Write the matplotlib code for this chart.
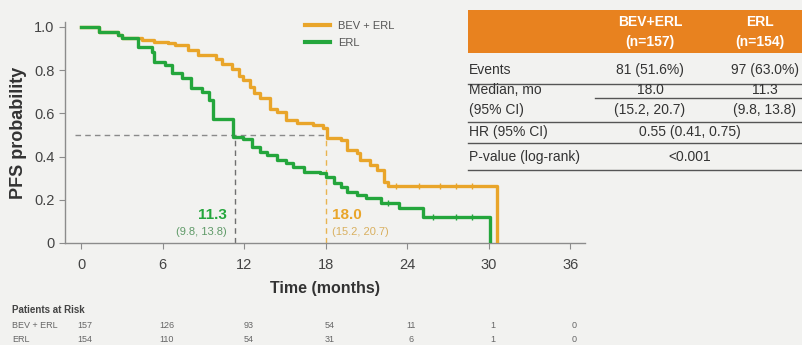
import matplotlib.pyplot as plt
from matplotlib.patches import Rectangle
from matplotlib.lines import Line2D
from matplotlib.transforms import blended_transform_factory

plt.rcParams['font.family'] = ['Liberation Sans Narrow', 'Liberation Sans', 'DejaVu Sans']

# Kaplan-Meier steps (months, PFS probability)
bev_t = [0, 1.3, 2.7, 3.0, 4.5, 5.4, 6.4, 6.9, 7.9, 8.6, 9.9, 10.4, 11.1, 11.6, 11.9, 12.4,
         12.7, 13.2, 13.9, 14.4, 15.1, 15.9, 17.1, 17.8, 18.1, 19.1, 19.6, 20.3, 20.5, 21.3,
         21.8, 22.3, 22.6, 30.6]
bev_s = [1.0, 0.975, 0.963, 0.948, 0.94, 0.932, 0.925, 0.915, 0.894, 0.87, 0.85, 0.83, 0.805,
         0.775, 0.755, 0.724, 0.693, 0.67, 0.62, 0.605, 0.57, 0.555, 0.546, 0.532, 0.486, 0.477,
         0.43, 0.417, 0.384, 0.361, 0.338, 0.284, 0.265, 0.0]
erl_t = [0, 1.3, 2.7, 3.0, 4.2, 5.2, 5.4, 6.2, 6.7, 7.4, 8.1, 8.9, 9.4, 9.7, 11.2, 11.9, 12.6,
         13.2, 13.7, 14.4, 15.1, 15.6, 16.4, 17.6, 18.0, 18.6, 19.1, 19.6, 20.3, 21.0, 22.1,
         23.4, 25.2, 30.1]
erl_s = [1.0, 0.978, 0.963, 0.948, 0.909, 0.886, 0.84, 0.824, 0.786, 0.764, 0.716, 0.70, 0.66,
         0.575, 0.492, 0.48, 0.446, 0.423, 0.407, 0.384, 0.369, 0.353, 0.33, 0.323, 0.307,
         0.276, 0.26, 0.237, 0.222, 0.207, 0.184, 0.16, 0.12, 0.0]

bev_cens_t = [23.2, 24.9, 26.4, 27.6, 28.8]
erl_cens_t = [22.6, 25.9, 27.6, 28.8]

bev_median, bev_ci = 18.0, "(15.2, 20.7)"
erl_median, erl_ci = 11.3, "(9.8, 13.8)"

risk_times = [0, 6, 12, 18, 24, 30, 36]
risk_bev = [157, 126, 93, 54, 11, 1, 0]
risk_erl = [154, 110, 54, 31, 6, 1, 0]

table_header = ["BEV+ERL\n(n=157)", "ERL\n(n=154)"]
table_rows = [
    ("Events", "81 (51.6%)", "97 (63.0%)"),
    ("Median, mo", "18.0", "11.3"),
    ("(95% CI)", "(15.2, 20.7)", "(9.8, 13.8)"),
    ("HR (95% CI)", "0.55 (0.41, 0.75)", None),
    ("P-value (log-rank)", "<0.001", None),
]

orange = '#e9a52a'
green = '#24a63c'
bg = '#f2f2f0'

fig = plt.figure(figsize=(8.03, 3.45), dpi=100, facecolor=bg)
ax = fig.add_axes([0.081, 0.2957, 0.6476, 0.6406], facecolor=bg)

ax.step(bev_t, bev_s, where='post', color=orange, lw=2.4, label='BEV + ERL', zorder=3)
ax.step(erl_t, erl_s, where='post', color=green, lw=2.4, label='ERL', zorder=4)

# censor ticks on the flat tails
def surv_at(ts, ss, x):
    v = ss[0]
    for t, s in zip(ts, ss):
        if t <= x:
            v = s
    return v

ax.plot(bev_cens_t, [surv_at(bev_t, bev_s, x) for x in bev_cens_t], ls='none',
        marker='|', ms=5, mew=1, color=orange, zorder=3)
ax.plot(erl_cens_t, [surv_at(erl_t, erl_s, x) for x in erl_cens_t], ls='none',
        marker='|', ms=5, mew=1, color=green, zorder=4)

# median guides
ax.plot([-0.45, bev_median], [0.5, 0.5], ls=(0, (4, 3)), color='#8a8a8a', lw=1, zorder=2)
ax.plot([erl_median, erl_median], [0, 0.5], ls=(0, (4, 3)), color='#6f6f6f', lw=1, zorder=2)
ax.plot([bev_median, bev_median], [0, 0.5], ls=(0, (4, 3)), color='#e8b450', lw=1, zorder=2)

ax.text(10.7, 0.13, f"{erl_median:.1f}", color=green, fontsize=11, fontweight='bold',
        ha='right', va='center')
ax.text(10.7, 0.05, erl_ci, color='#5f9a68', fontsize=8, ha='right', va='center')
ax.text(18.5, 0.13, f"{bev_median:.1f}", color=orange, fontsize=11, fontweight='bold',
        ha='left', va='center')
ax.text(18.5, 0.05, bev_ci, color='#d9b060', fontsize=8, ha='left', va='center')

ax.set_xlim(-1.18, 37.1)
ax.set_ylim(0, 1.023)
ax.set_xticks(risk_times)
ax.set_yticks([0, 0.2, 0.4, 0.6, 0.8, 1.0])
ax.set_yticklabels(['0', '0.2', '0.4', '0.6', '0.8', '1.0'])
for side in ['top', 'right']:
    ax.spines[side].set_visible(False)
for side in ['left', 'bottom']:
    ax.spines[side].set_color('#8c8c8c')
    ax.spines[side].set_linewidth(1)
ax.tick_params(colors='#8c8c8c', labelcolor='#444444', labelsize=10.5, length=4)
ax.tick_params(axis='x', pad=7)

ax.set_ylabel('PFS probability', fontsize=13, fontweight='bold', color='#333333', labelpad=5)
fig.text(325 / 803, 1 - 288 / 345, 'Time (months)', fontsize=11.5, fontweight='bold',
         color='#333333', ha='center', va='center')

leg = ax.legend(loc='upper left', bbox_to_anchor=(299 / 803, 1 - 15 / 345),
                bbox_transform=fig.transFigure, frameon=False, fontsize=8,
                handlelength=2.3, handletextpad=0.7, labelspacing=0.65, borderpad=0)
for txt in leg.get_texts():
    txt.set_color('#555555')
for h in leg.get_lines():
    h.set_linewidth(3)

# patients at risk
fig.text(12 / 803, 1 - 310 / 345, 'Patients at Risk', fontsize=7, fontweight='bold',
         color='#444444', va='center')
fig.text(12 / 803, 1 - 325 / 345, 'BEV + ERL', fontsize=6.5, color='#666666', va='center')
fig.text(12 / 803, 1 - 339 / 345, 'ERL', fontsize=6.5, color='#666666', va='center')
tr = blended_transform_factory(ax.transData, fig.transFigure)
for t, a, b in zip(risk_times, risk_bev, risk_erl):
    fig.text(t + 0.3, 1 - 325 / 345, str(a), transform=tr, fontsize=6.5, color='#666666',
             ha='center', va='center')
    fig.text(t + 0.3, 1 - 339 / 345, str(b), transform=tr, fontsize=6.5, color='#666666',
             ha='center', va='center')

# summary table
def fy(py):
    return 1 - py / 345

def fx(px):
    return px / 803

fig.patches.append(Rectangle((fx(468), fy(53)), fx(803) - fx(468), fy(10) - fy(53),
                             transform=fig.transFigure, facecolor='#e8821f', edgecolor='none'))
col_x = [650, 760]
for cx, head in zip(col_x, table_header):
    top, bottom = head.split('\n')
    fig.text(fx(cx), fy(22), top, color='white', fontsize=10, fontweight='bold',
             ha='center', va='center')
    fig.text(fx(cx), fy(42), bottom, color='white', fontsize=10, fontweight='bold',
             ha='center', va='center')

row_y = [70, 90, 110, 132, 157]
line_y = [84, 98, 122, 143, 170]
line_x0 = [468, 595, 468, 468, 468]
for (label, v1, v2), ry, ly, lx in zip(table_rows, row_y, line_y, line_x0):
    fig.text(fx(469), fy(ry), label, fontsize=10, color='#333333', ha='left', va='center')
    if v2 is None:
        fig.text(fx(690), fy(ry), v1, fontsize=10, color='#333333', ha='center', va='center')
    else:
        fig.text(fx(col_x[0]), fy(ry), v1, fontsize=10, color='#333333', ha='center', va='center')
        fig.text(fx(col_x[1] + 5), fy(ry), v2, fontsize=10, color='#333333', ha='center', va='center')
    fig.lines.append(Line2D([fx(lx), fx(803)], [fy(ly), fy(ly)], transform=fig.transFigure,
                            color='#555555', lw=1))

fig.savefig('out.png', dpi=100, facecolor=bg)
